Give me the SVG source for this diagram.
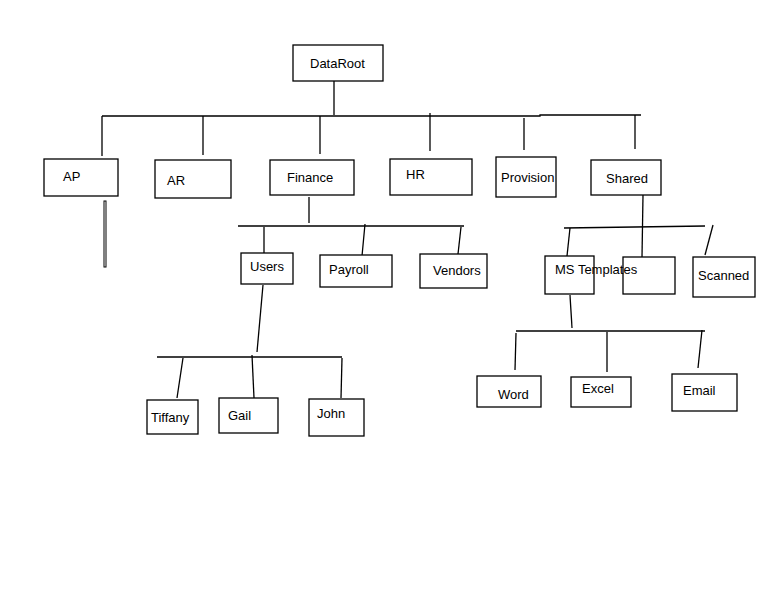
<svg xmlns="http://www.w3.org/2000/svg" width="768" height="614" viewBox="0 0 768 614">
<style>
rect{fill:#fff;stroke:#000;stroke-width:1.3}
line,polyline{stroke:#000;stroke-width:1.3;fill:none}
text{font-family:"Liberation Sans",Arial,sans-serif;font-size:13px;fill:#000}
</style>
<rect x="0" y="0" width="768" height="614" style="stroke:none"/>
<g id="connectors">
<line x1="334" y1="81" x2="334" y2="115"/>
<polyline points="102,116 540,116 540,115 641,115"/>
<line x1="102" y1="116" x2="102" y2="156"/>
<line x1="203" y1="116" x2="203" y2="155"/>
<line x1="320" y1="116" x2="320" y2="154"/>
<line x1="430" y1="113" x2="430" y2="151"/>
<line x1="524" y1="118" x2="524" y2="150"/>
<line x1="635" y1="115" x2="635" y2="149"/>
<rect x="104" y="201" width="2" height="66" style="stroke-width:1"/>
<line x1="309" y1="197" x2="309" y2="223"/>
<line x1="238" y1="226" x2="464" y2="226"/>
<line x1="264" y1="227" x2="264" y2="253"/>
<line x1="365" y1="224" x2="362" y2="256"/>
<line x1="461" y1="227" x2="458" y2="254"/>
<line x1="263" y1="285" x2="257" y2="352"/>
<line x1="157" y1="357" x2="342" y2="357"/>
<line x1="183" y1="358" x2="177" y2="398"/>
<line x1="252" y1="355" x2="254" y2="398"/>
<line x1="342" y1="358" x2="341" y2="398"/>
<line x1="643" y1="195" x2="642" y2="257"/>
<line x1="564" y1="228" x2="705" y2="226"/>
<line x1="570" y1="228" x2="567" y2="256"/>
<line x1="713" y1="225" x2="705" y2="255"/>
<line x1="570" y1="295" x2="572" y2="328"/>
<line x1="516" y1="331" x2="705" y2="331"/>
<line x1="516" y1="333" x2="515" y2="370"/>
<line x1="607" y1="332" x2="607" y2="372"/>
<line x1="702" y1="330" x2="698" y2="368"/>
</g>
<g id="DataRoot"><rect x="293" y="45" width="90" height="36"/><text x="310" y="68">DataRoot</text></g>
<g id="AP"><rect x="44" y="159" width="74" height="37"/><text x="63" y="181">AP</text></g>
<g id="AR"><rect x="155" y="160" width="76" height="38"/><text x="167" y="185">AR</text></g>
<g id="Finance"><rect x="270" y="160" width="84" height="35"/><text x="287" y="182">Finance</text></g>
<g id="HR"><rect x="390" y="159" width="82" height="36"/><text x="406" y="179">HR</text></g>
<g id="Provision"><rect x="496" y="157" width="60" height="40"/><text x="501" y="182">Provision</text></g>
<g id="Shared"><rect x="591" y="160" width="70" height="35"/><text x="606" y="183">Shared</text></g>
<g id="Users"><rect x="241" y="253" width="52" height="31"/><text x="250" y="271">Users</text></g>
<g id="Payroll"><rect x="320" y="255" width="72" height="32"/><text x="329" y="274">Payroll</text></g>
<g id="Vendors"><rect x="420" y="254" width="67" height="34"/><text x="433" y="275">Vendors</text></g>
<g id="Tiffany"><rect x="147" y="400" width="51" height="34"/><text x="151" y="422">Tiffany</text></g>
<g id="Gail"><rect x="219" y="398" width="59" height="35"/><text x="228" y="420">Gail</text></g>
<g id="John"><rect x="309" y="399" width="55" height="37"/><text x="317" y="418">John</text></g>
<g id="MSTemplates"><rect x="545" y="256" width="49" height="38"/></g>
<g id="Blank"><rect x="623" y="257" width="52" height="37"/></g>
<text x="555" y="274">MS Templates</text>
<g id="Scanned"><rect x="693" y="257" width="62" height="40"/><text x="698" y="280">Scanned</text></g>
<g id="Word"><rect x="477" y="376" width="64" height="31"/><text x="498" y="399">Word</text></g>
<g id="Excel"><rect x="571" y="377" width="60" height="30"/><text x="582" y="393">Excel</text></g>
<g id="Email"><rect x="672" y="374" width="65" height="37"/><text x="683" y="395">Email</text></g>
</svg>
